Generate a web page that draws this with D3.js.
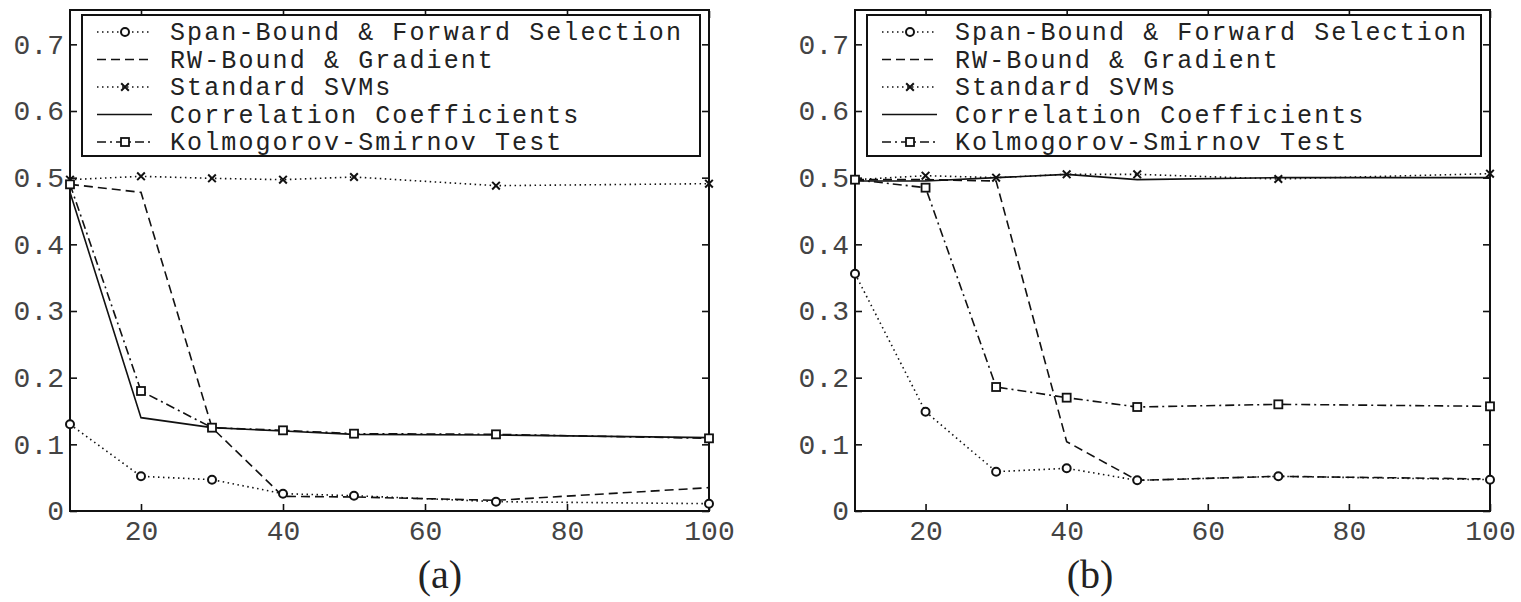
<!DOCTYPE html>
<html>
<head>
<meta charset="utf-8">
<script src="https://cdn.jsdelivr.net/npm/d3@7"></script>
<style>
  body { margin: 0; background: #fff; }
  .tick text { font-family: "Liberation Mono", "DejaVu Sans Mono", monospace; font-size: 28px; fill: #444; }
</style>
</head>
<body>
<div id="chart"></div>
<script>
// number of features on the x axis
var features = [10, 20, 30, 40, 50, 70, 100];

// panel (a)
var spanA = [0.130, 0.052, 0.047, 0.026, 0.023, 0.014, 0.011];
var rwA = [0.490, 0.478, 0.125, 0.022, 0.021, 0.016, 0.035];
var svmA = [0.497, 0.502, 0.499, 0.497, 0.501, 0.488, 0.491];
var corrA = [0.478, 0.140, 0.125, 0.120, 0.115, 0.114, 0.110];
var ksA = [0.490, 0.180, 0.125, 0.121, 0.116, 0.115, 0.109];

// panel (b)
var spanB = [0.356, 0.149, 0.059, 0.064, 0.046, 0.052, 0.047];
var rwB = [0.497, 0.497, 0.495, 0.104, 0.046, 0.052, 0.048];
var svmB = [0.497, 0.503, 0.500, 0.505, 0.505, 0.498, 0.506];
var corrB = [0.495, 0.495, 0.500, 0.505, 0.497, 0.500, 0.500];
var ksB = [0.497, 0.485, 0.186, 0.170, 0.156, 0.160, 0.157];

var seriesNames = [
  "Span-Bound & Forward Selection",
  "RW-Bound & Gradient",
  "Standard SVMs",
  "Correlation Coefficients",
  "Kolmogorov-Smirnov Test"
];
var xTicks = [20, 40, 60, 80, 100];
var yTicks = [0, 0.1, 0.2, 0.3, 0.4, 0.5, 0.6, 0.7];

// line style + marker for each series (same order as seriesNames)
var styles = [
  { dash: "1.5,3.5", marker: "circle" },
  { dash: "9,5", marker: null },
  { dash: "1.5,3.5", marker: "x" },
  { dash: null, marker: null },
  { dash: "9,4,2,4", marker: "square" }
];

var W = 1521, H = 602;
var svg = d3
  .select("#chart")
  .append("svg")
  .attr("width", W)
  .attr("height", H)
  .style("background", "#fff");

function drawPanel(left, right, series, label, labelX) {
  var top = 11, bottom = 511;
  var x = d3.scaleLinear().domain([10, 100]).range([left, right]);
  var y = d3.scaleLinear().domain([0, 0.75]).range([bottom, top]);
  var g = svg.append("g");

  // axes, ticks pointing inward
  g.append("g")
    .attr("transform", "translate(0," + bottom + ")")
    .call(d3.axisBottom(x).tickValues(xTicks).tickSize(-7).tickSizeOuter(0).tickPadding(9));
  g.append("g")
    .attr("transform", "translate(" + left + ",0)")
    .call(
      d3.axisLeft(y)
        .tickValues(yTicks)
        .tickSize(-7)
        .tickSizeOuter(0)
        .tickPadding(6)
        .tickFormat(function (d) { return d === 0 ? "0" : d.toFixed(1); })
    );
  g.append("g")
    .attr("transform", "translate(0," + top + ")")
    .call(d3.axisTop(x).tickValues(xTicks).tickSize(-7).tickSizeOuter(0).tickFormat(""));
  g.append("g")
    .attr("transform", "translate(" + right + ",0)")
    .call(d3.axisRight(y).tickValues(yTicks).tickSize(-7).tickSizeOuter(0).tickFormat(""));
  g.selectAll(".domain").remove();
  g.selectAll(".tick line").attr("stroke", "#111").attr("stroke-width", 1.6);

  // frame
  g.append("rect")
    .attr("x", left)
    .attr("y", top - 1)
    .attr("width", right - left)
    .attr("height", bottom - top + 1)
    .attr("fill", "none")
    .attr("stroke", "#111")
    .attr("stroke-width", 2);

  // legend box
  var lx0 = left + 12, lx1 = right - 9, ly0 = 15, ly1 = 156;
  g.append("rect")
    .attr("x", lx0)
    .attr("y", ly0)
    .attr("width", lx1 - lx0)
    .attr("height", ly1 - ly0)
    .attr("fill", "#fff")
    .attr("stroke", "#111")
    .attr("stroke-width", 2);

  var line = d3
    .line()
    .x(function (d) { return x(d[0]); })
    .y(function (d) { return y(d[1]); });

  series.forEach(function (vals, i) {
    var pts = features.map(function (f, k) { return [f, vals[k]]; });
    g.append("path")
      .attr("d", line(pts))
      .attr("fill", "none")
      .attr("stroke", "#111")
      .attr("stroke-width", 1.6)
      .attr("stroke-dasharray", styles[i].dash);
  });

  // markers drawn after all lines
  series.forEach(function (vals, i) {
    var pts = features.map(function (f, k) { return [x(f), y(vals[k])]; });
    pts.forEach(function (p) { addMarker(g, styles[i].marker, p[0], p[1]); });
  });

  // legend rows
  seriesNames.forEach(function (name, i) {
    var ry = 32 + i * 27.5;
    g.append("line")
      .attr("x1", lx0 + 15)
      .attr("x2", lx0 + 70)
      .attr("y1", ry)
      .attr("y2", ry)
      .attr("stroke", "#111")
      .attr("stroke-width", 1.6)
      .attr("stroke-dasharray", styles[i].dash);
    addMarker(g, styles[i].marker, lx0 + 43, ry);
    g.append("text")
      .attr("x", lx0 + 88)
      .attr("y", ry + 8)
      .attr("font-family", "Liberation Mono, DejaVu Sans Mono, monospace")
      .attr("font-size", "25px")
      .attr("letter-spacing", "2.1px")
      .attr("fill", "#222")
      .text(name);
  });

  // panel caption
  svg.append("text")
    .attr("x", labelX)
    .attr("y", 588)
    .attr("text-anchor", "middle")
    .attr("font-family", "Liberation Serif, Times New Roman, serif")
    .attr("font-size", "40px")
    .attr("fill", "#222")
    .text(label);
}

function addMarker(g, type, cx, cy) {
  if (type === "circle") {
    g.append("circle")
      .attr("cx", cx)
      .attr("cy", cy)
      .attr("r", 4)
      .attr("fill", "#fff")
      .attr("stroke", "#111")
      .attr("stroke-width", 2);
  } else if (type === "square") {
    g.append("rect")
      .attr("x", cx - 4)
      .attr("y", cy - 4)
      .attr("width", 8)
      .attr("height", 8)
      .attr("fill", "#fff")
      .attr("stroke", "#111")
      .attr("stroke-width", 1.8);
  } else if (type === "x") {
    g.append("path")
      .attr("transform", "translate(" + cx + "," + cy + ")")
      .attr("d", d3.symbol().type(d3.symbolX).size(40)())
      .attr("fill", "none")
      .attr("stroke", "#111")
      .attr("stroke-width", 2);
  }
}

drawPanel(70, 709, [spanA, rwA, svmA, corrA, ksA], "(a)", 440);
drawPanel(855, 1490, [spanB, rwB, svmB, corrB, ksB], "(b)", 1090);
</script>
</body>
</html>
